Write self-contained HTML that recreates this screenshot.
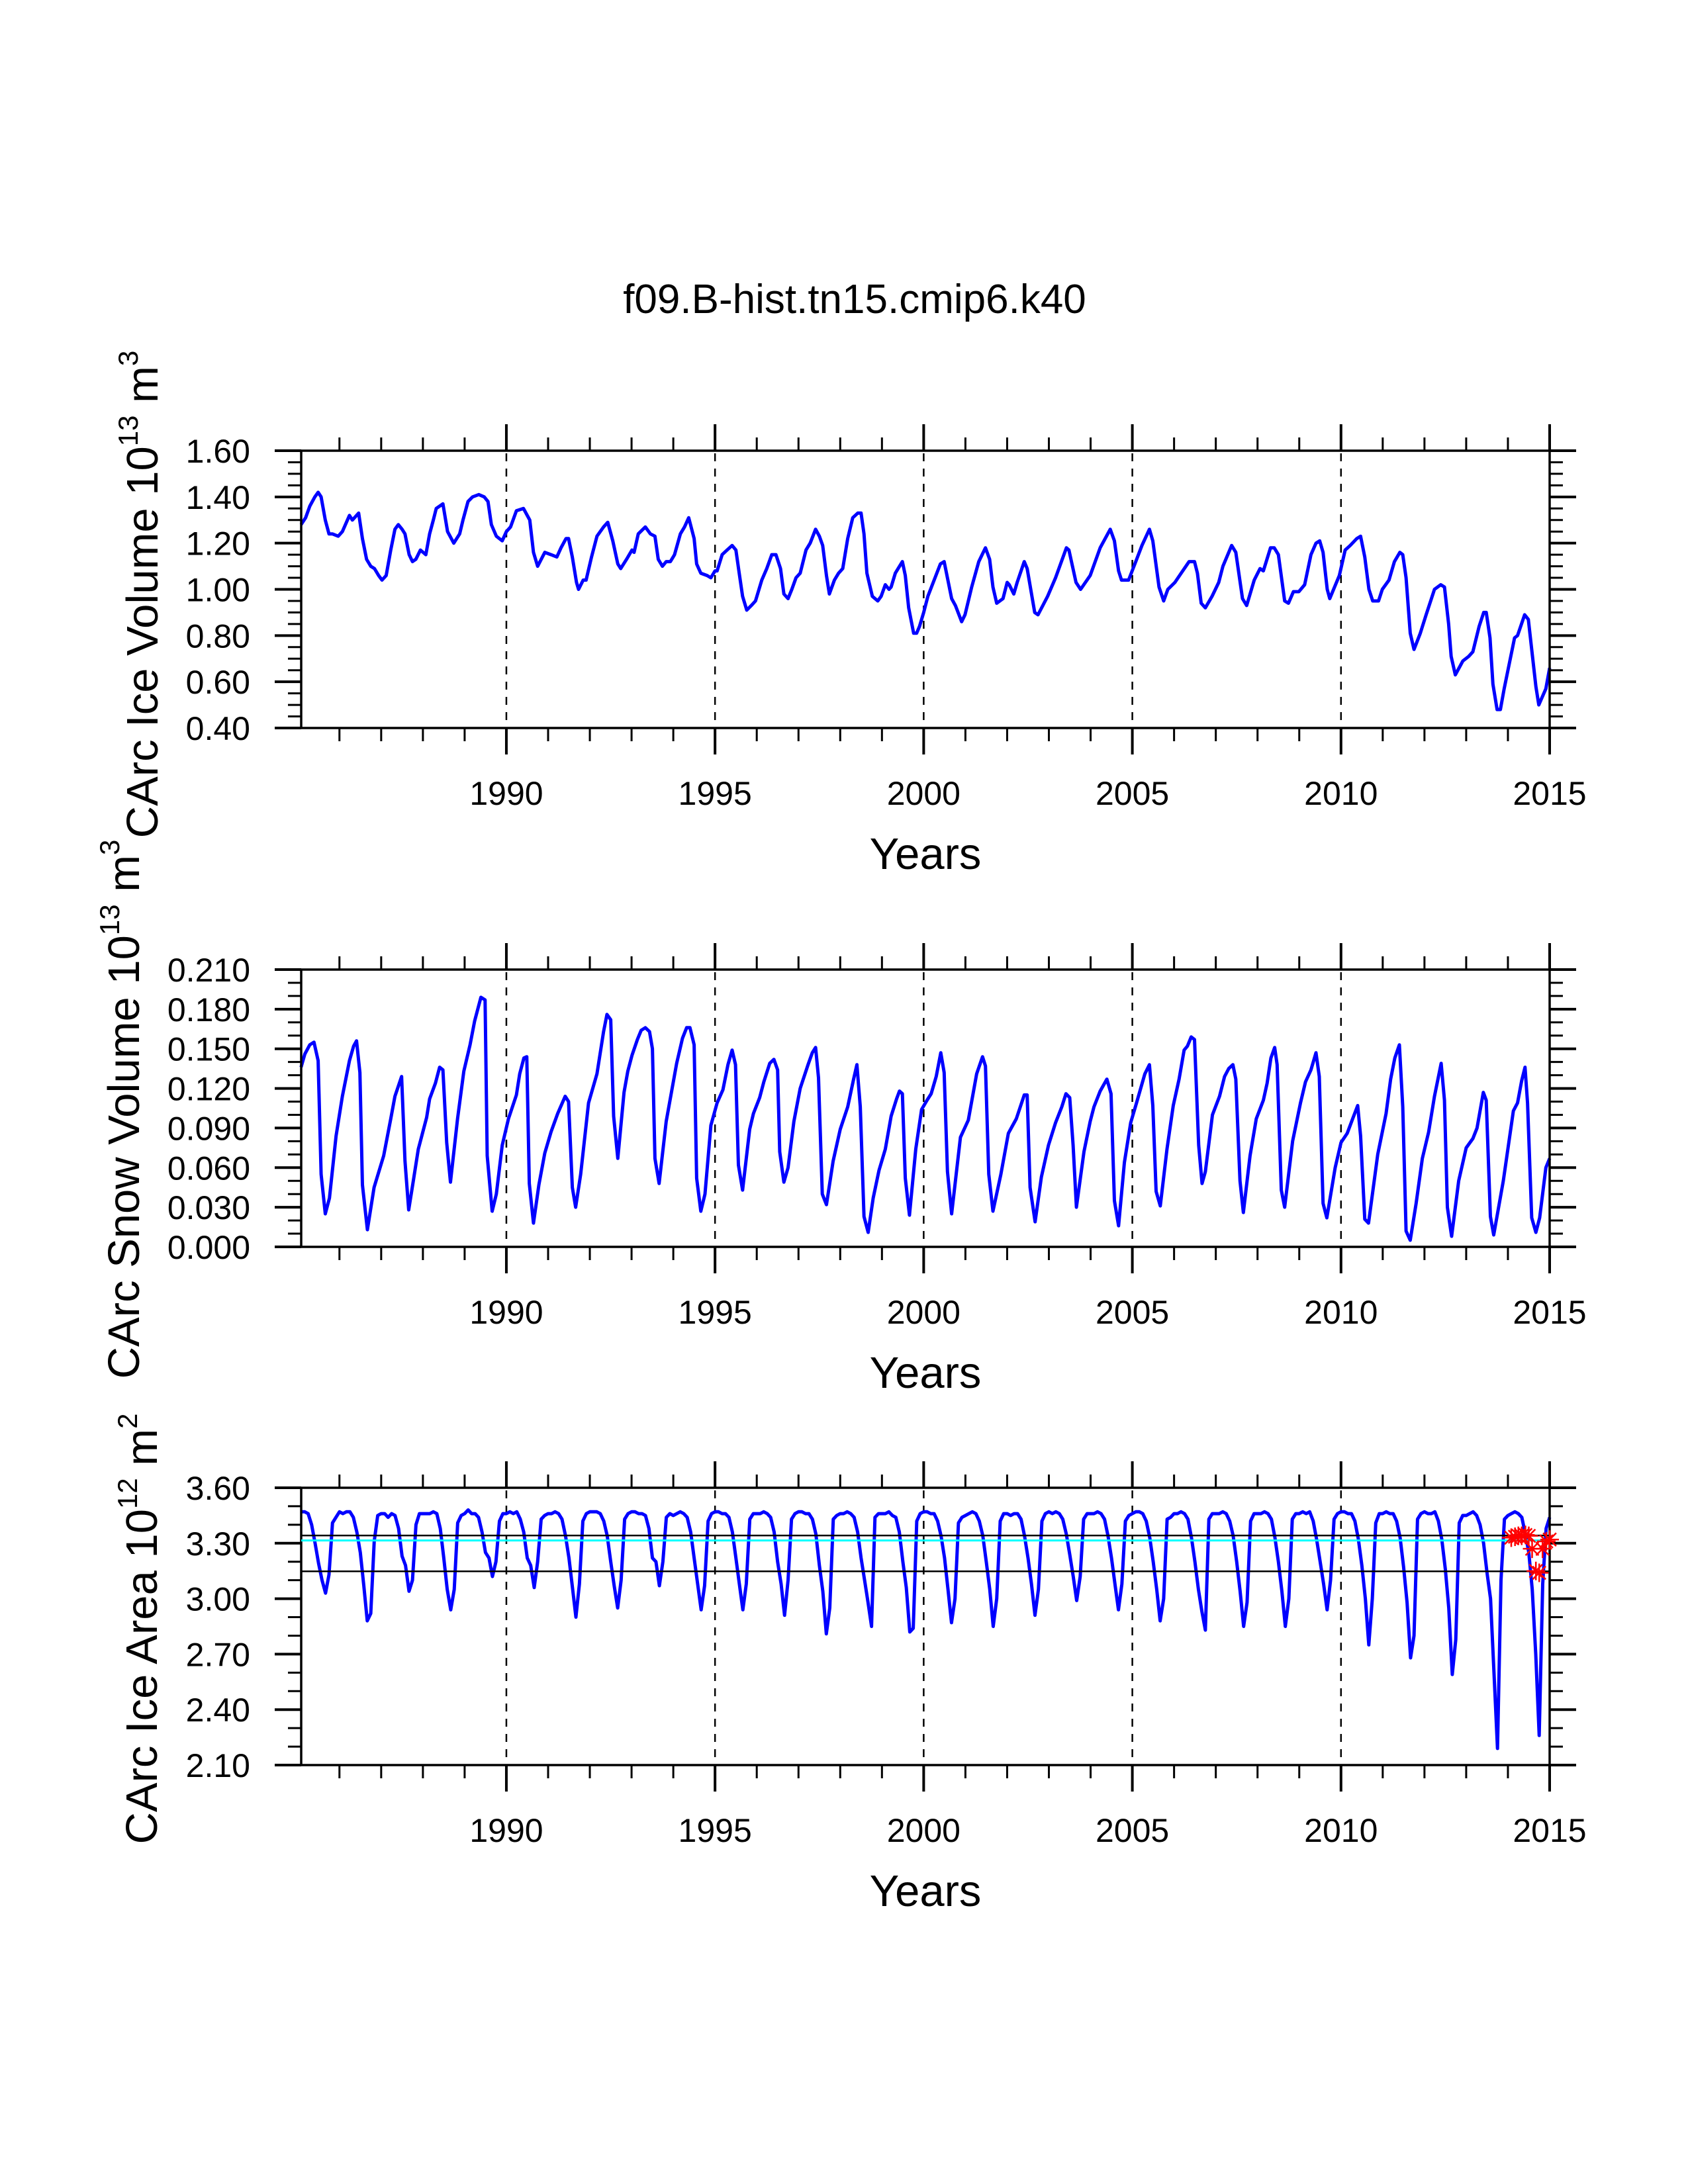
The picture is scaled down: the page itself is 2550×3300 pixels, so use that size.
<!DOCTYPE html>
<html><head><meta charset="utf-8"><title>f09.B-hist.tn15.cmip6.k40</title>
<style>
html,body{margin:0;padding:0;background:#fff;}
svg{display:block;font-family:"Liberation Sans",Arial,sans-serif;}
</style></head>
<body>
<svg id="chart" width="2550" height="3300" viewBox="0 0 2550 3300" xmlns="http://www.w3.org/2000/svg">
<rect x="0" y="0" width="2550" height="3300" fill="#fff"/>
<text x="1291" y="473" font-size="62" text-anchor="middle">f09.B-hist.tn15.cmip6.k40</text>
<g id="p1"></g>
<g id="p2"></g>
<g id="p3"></g>
<text transform="translate(238,898) rotate(-90)" font-size="67" text-anchor="middle">CArc Ice Volume 10<tspan font-size="42" dy="-30">13</tspan><tspan dy="30"> m</tspan><tspan font-size="42" dy="-30">3</tspan></text>
<text transform="translate(210,1676) rotate(-90)" font-size="67" text-anchor="middle">CArc Snow Volume 10<tspan font-size="42" dy="-30">13</tspan><tspan dy="30"> m</tspan><tspan font-size="42" dy="-30">3</tspan></text>
<text transform="translate(237,2461) rotate(-90)" font-size="67" text-anchor="middle">CArc Ice Area 10<tspan font-size="42" dy="-30">12</tspan><tspan dy="30"> m</tspan><tspan font-size="42" dy="-30">2</tspan></text>
</svg>
<script>
// ---------- data ----------
const xTickYears = [1990, 1995, 2000, 2005, 2010, 2015];
const volTicks = ["0.40","0.60","0.80","1.00","1.20","1.40","1.60"];
const snowTicks = ["0.000","0.030","0.060","0.090","0.120","0.150","0.180","0.210"];
const areaTicks = ["2.10","2.40","2.70","3.00","3.30","3.60"];
const areaRefBlack = [3.342, 3.148];
const areaRefCyan = [3.315];

const volPairs = [[1985.08,1.28],[1985.19,1.31],[1985.29,1.36],[1985.41,1.40],[1985.49,1.42],[1985.56,1.40],[1985.66,1.30],[1985.75,1.24],[1985.83,1.24],[1985.97,1.23],[1986.07,1.25],[1986.24,1.32],[1986.31,1.30],[1986.46,1.33],[1986.55,1.22],[1986.65,1.13],[1986.75,1.10],[1986.84,1.09],[1986.94,1.06],[1987.02,1.04],[1987.12,1.06],[1987.23,1.17],[1987.33,1.26],[1987.41,1.28],[1987.50,1.26],[1987.57,1.24],[1987.67,1.15],[1987.75,1.12],[1987.83,1.13],[1987.94,1.17],[1988.07,1.15],[1988.16,1.24],[1988.25,1.30],[1988.32,1.35],[1988.48,1.37],[1988.59,1.25],[1988.74,1.20],[1988.88,1.24],[1988.96,1.30],[1989.08,1.38],[1989.19,1.40],[1989.34,1.41],[1989.47,1.40],[1989.56,1.38],[1989.64,1.28],[1989.76,1.23],[1989.90,1.21],[1990.00,1.25],[1990.10,1.27],[1990.24,1.34],[1990.41,1.35],[1990.56,1.30],[1990.65,1.16],[1990.75,1.10],[1990.92,1.16],[1991.07,1.15],[1991.21,1.14],[1991.31,1.18],[1991.43,1.22],[1991.49,1.22],[1991.58,1.14],[1991.68,1.03],[1991.73,1.00],[1991.84,1.04],[1991.91,1.04],[1992.04,1.14],[1992.17,1.23],[1992.33,1.27],[1992.43,1.29],[1992.55,1.21],[1992.67,1.11],[1992.74,1.09],[1992.88,1.13],[1993.01,1.17],[1993.06,1.16],[1993.16,1.24],[1993.33,1.27],[1993.45,1.24],[1993.56,1.23],[1993.64,1.13],[1993.74,1.10],[1993.83,1.12],[1993.93,1.12],[1994.03,1.15],[1994.17,1.24],[1994.27,1.27],[1994.37,1.31],[1994.50,1.22],[1994.56,1.11],[1994.66,1.07],[1994.81,1.06],[1994.90,1.05],[1995.00,1.08],[1995.05,1.08],[1995.17,1.15],[1995.29,1.17],[1995.41,1.19],[1995.50,1.17],[1995.58,1.07],[1995.66,0.97],[1995.76,0.91],[1995.87,0.93],[1995.97,0.95],[1996.12,1.04],[1996.24,1.09],[1996.36,1.15],[1996.46,1.15],[1996.57,1.09],[1996.65,0.98],[1996.75,0.96],[1996.84,1.00],[1996.94,1.05],[1997.04,1.07],[1997.18,1.17],[1997.28,1.20],[1997.41,1.26],[1997.50,1.23],[1997.58,1.19],[1997.67,1.06],[1997.74,0.98],[1997.86,1.04],[1997.96,1.07],[1998.06,1.09],[1998.18,1.22],[1998.30,1.31],[1998.42,1.33],[1998.50,1.33],[1998.57,1.24],[1998.64,1.07],[1998.77,0.97],[1998.90,0.95],[1998.98,0.97],[1999.08,1.02],[1999.17,1.00],[1999.22,1.01],[1999.32,1.07],[1999.49,1.12],[1999.56,1.06],[1999.64,0.92],[1999.76,0.81],[1999.83,0.81],[1999.90,0.84],[2000.00,0.90],
[2000.1,0.97],[2000.4,1.11],[2000.49,1.12],[2000.67,0.96],[2000.76,0.93],[2000.91,0.86],[2000.99,0.89],[2001.15,1.01],[2001.32,1.12],[2001.48,1.18],[2001.58,1.13],[2001.66,1.01],[2001.75,0.94],[2001.9,0.96],[2002.0,1.03],[2002.05,1.02],[2002.16,0.98],[2002.24,1.03],[2002.41,1.12],[2002.48,1.09],[2002.66,0.90],[2002.74,0.89],[2002.97,0.97],[2003.16,1.05],[2003.42,1.18],[2003.48,1.17],[2003.65,1.03],[2003.76,1.00],[2003.99,1.06],[2004.23,1.18],[2004.47,1.26],[2004.57,1.21],[2004.67,1.08],[2004.74,1.04],[2004.91,1.04],[2005.06,1.11],[2005.23,1.19],[2005.41,1.26],[2005.49,1.21],[2005.64,1.01],[2005.75,0.95],[2005.85,1.00],[2006.02,1.03],[2006.17,1.07],[2006.36,1.12],[2006.49,1.12],[2006.56,1.07],[2006.65,0.94],[2006.75,0.92],[2006.91,0.97],[2007.07,1.03],[2007.17,1.10],[2007.38,1.19],[2007.48,1.16],[2007.64,0.96],[2007.74,0.93],[2007.92,1.04],[2008.06,1.09],[2008.14,1.08],[2008.31,1.18],[2008.4,1.18],[2008.5,1.15],[2008.65,0.95],[2008.74,0.94],[2008.86,0.99],[2008.99,0.99],[2009.13,1.02],[2009.28,1.15],[2009.4,1.20],[2009.49,1.21],[2009.57,1.16],[2009.67,1.00],[2009.73,0.96],[2009.96,1.06],[2010.1,1.17],[2010.22,1.19],[2010.38,1.22],[2010.47,1.23],[2010.57,1.14],[2010.67,1.00],[2010.76,0.95],[2010.9,0.95],[2010.99,1.00],[2011.15,1.04],[2011.28,1.12],[2011.41,1.16],[2011.48,1.15],[2011.56,1.05],[2011.66,0.81],[2011.75,0.74],[2011.9,0.81],[2012.04,0.89],[2012.24,1.00],[2012.39,1.02],[2012.48,1.01],[2012.58,0.85],[2012.64,0.71],[2012.74,0.63],[2012.92,0.69],[2013.06,0.71],[2013.16,0.73],[2013.31,0.84],[2013.42,0.90],[2013.48,0.90],[2013.57,0.79],[2013.64,0.59],[2013.74,0.48],[2013.82,0.48],[2013.91,0.57],[2014.16,0.79],[2014.23,0.80],[2014.4,0.89],[2014.49,0.87],[2014.57,0.74],[2014.67,0.58],[2014.74,0.50],[2014.91,0.57],[2015.0,0.66]];

const snowPairs = [[1985.08,.136],[1985.17,.146],[1985.29,.153],[1985.39,.155],[1985.49,.141],[1985.56,.055],[1985.66,.025],[1985.76,.037],[1985.92,.084],[1986.07,.114],[1986.24,.141],[1986.34,.152],[1986.41,.156],[1986.49,.132],[1986.55,.047],[1986.67,.013],[1986.83,.045],[1987.06,.069],[1987.23,.097],[1987.33,.114],[1987.49,.129],[1987.57,.065],[1987.66,.028],[1987.77,.050],[1987.89,.074],[1988.09,.098],[1988.16,.112],[1988.3,.124],[1988.4,.136],[1988.48,.134],[1988.57,.079],[1988.66,.049],[1988.83,.097],[1988.98,.133],[1989.13,.153],[1989.24,.171],[1989.39,.189],[1989.49,.187],[1989.54,.069],[1989.66,.027],[1989.76,.040],[1989.9,.077],[1990.05,.097],[1990.24,.115],[1990.32,.131],[1990.42,.143],[1990.49,.144],[1990.55,.048],[1990.65,.018],[1990.78,.047],[1990.92,.071],[1991.07,.087],[1991.23,.101],[1991.41,.114],[1991.49,.110],[1991.58,.045],[1991.66,.030],[1991.78,.055],[1991.97,.109],[1992.17,.131],[1992.33,.163],[1992.41,.176],[1992.5,.172],[1992.57,.099],[1992.67,.067],[1992.82,.117],[1992.91,.133],[1993.01,.145],[1993.14,.157],[1993.23,.164],[1993.33,.166],[1993.43,.163],[1993.5,.150],[1993.56,.067],[1993.66,.048],[1993.83,.095],[1994.08,.139],[1994.22,.158],[1994.32,.166],[1994.4,.166],[1994.5,.153],[1994.56,.052],[1994.66,.027],[1994.76,.040],[1994.9,.092],[1995.05,.109],[1995.19,.119],[1995.31,.138],[1995.41,.149],[1995.49,.138],[1995.56,.062],[1995.66,.043],[1995.83,.089],[1995.92,.101],[1996.07,.113],[1996.17,.125],[1996.31,.139],[1996.41,.142],[1996.5,.134],[1996.55,.072],[1996.65,.049],[1996.75,.060],[1996.89,.095],[1997.04,.120],[1997.23,.138],[1997.33,.147],[1997.41,.151],[1997.48,.128],[1997.57,.040],[1997.67,.032],[1997.83,.065],[1998.0,.089],[1998.18,.106],[1998.32,.127],[1998.4,.138],[1998.48,.106],[1998.57,.023],[1998.67,.011],[1998.79,.037],[1998.93,.058],[1999.08,.074],[1999.22,.099],[1999.35,.112],[1999.42,.118],[1999.49,.116],[1999.56,.052],[1999.66,.024],[1999.81,.074],[1999.95,.104],
[2000.08,.111],[2000.18,.116],[2000.3,.129],[2000.41,.147],[2000.49,.132],[2000.57,.057],[2000.67,.025],[2000.88,.083],[2001.07,.096],[2001.27,.131],[2001.41,.144],[2001.48,.137],[2001.56,.055],[2001.66,.027],[2001.85,.055],[2002.03,.086],[2002.22,.097],[2002.41,.115],[2002.48,.115],[2002.55,.045],[2002.67,.019],[2002.82,.053],[2002.99,.077],[2003.16,.094],[2003.31,.106],[2003.41,.116],[2003.5,.113],[2003.58,.077],[2003.66,.030],[2003.84,.072],[2003.99,.095],[2004.08,.106],[2004.23,.118],[2004.39,.127],[2004.49,.116],[2004.57,.035],[2004.67,.016],[2004.81,.064],[2004.96,.094],[2005.1,.109],[2005.3,.131],[2005.41,.138],[2005.49,.107],[2005.57,.042],[2005.67,.031],[2005.83,.074],[2005.98,.107],[2006.12,.127],[2006.24,.149],[2006.32,.152],[2006.41,.159],[2006.49,.157],[2006.59,.077],[2006.67,.048],[2006.75,.057],[2006.92,.100],[2007.09,.114],[2007.21,.129],[2007.31,.135],[2007.41,.138],[2007.48,.127],[2007.58,.050],[2007.66,.026],[2007.82,.069],[2007.97,.097],[2008.14,.111],[2008.23,.124],[2008.32,.143],[2008.41,.151],[2008.47,.138],[2008.57,.043],[2008.65,.030],[2008.84,.080],[2009.03,.109],[2009.15,.125],[2009.28,.134],[2009.4,.147],[2009.48,.129],[2009.57,.033],[2009.66,.022],[2009.86,.060],[2010.0,.079],[2010.15,.086],[2010.28,.097],[2010.4,.107],[2010.47,.084],[2010.57,.021],[2010.66,.018],[2010.88,.070],[2011.08,.101],[2011.19,.127],[2011.29,.143],[2011.4,.153],[2011.48,.106],[2011.56,.012],[2011.66,.005],[2011.8,.033],[2011.95,.067],[2012.1,.087],[2012.24,.114],[2012.4,.139],[2012.48,.111],[2012.55,.030],[2012.65,.008],[2012.82,.050],[2013.0,.075],[2013.16,.082],[2013.26,.090],[2013.41,.117],[2013.48,.111],[2013.58,.023],[2013.66,.009],[2013.89,.050],[2014.13,.103],[2014.23,.109],[2014.33,.126],[2014.41,.136],[2014.47,.109],[2014.57,.022],[2014.67,.011],[2014.76,.022],[2014.91,.060],[2015.0,.067]];

// ice area monthly values, one row per year 1985..2014 (Jan..Dec)
const areaMonthly = [
[3.47,3.47,3.46,3.40,3.30,3.19,3.10,3.03,3.13,3.41,3.44,3.47],
[3.46,3.47,3.47,3.44,3.36,3.25,3.07,2.88,2.92,3.31,3.45,3.46],
[3.46,3.44,3.46,3.45,3.38,3.23,3.18,3.04,3.10,3.40,3.46,3.46],
[3.46,3.46,3.47,3.46,3.38,3.22,3.05,2.94,3.05,3.41,3.45,3.46],
[3.48,3.46,3.46,3.44,3.36,3.25,3.22,3.12,3.20,3.42,3.46,3.46],
[3.47,3.46,3.47,3.43,3.36,3.22,3.18,3.06,3.20,3.43,3.45,3.46],
[3.46,3.47,3.46,3.43,3.34,3.22,3.06,2.90,3.08,3.42,3.46,3.47],
[3.47,3.47,3.46,3.42,3.34,3.20,3.07,2.95,3.10,3.43,3.46,3.47],
[3.47,3.46,3.46,3.45,3.38,3.22,3.20,3.07,3.20,3.44,3.46,3.45],
[3.46,3.47,3.46,3.44,3.36,3.22,3.08,2.94,3.07,3.42,3.46,3.47],
[3.47,3.46,3.46,3.44,3.36,3.22,3.08,2.94,3.08,3.43,3.46,3.46],
[3.46,3.47,3.46,3.44,3.36,3.20,3.08,2.91,3.10,3.43,3.46,3.47],
[3.47,3.46,3.46,3.43,3.35,3.18,3.04,2.81,2.95,3.43,3.45,3.46],
[3.46,3.47,3.46,3.44,3.36,3.22,3.10,2.98,2.85,3.44,3.46,3.46],
[3.46,3.47,3.45,3.44,3.36,3.20,3.06,2.82,2.84,3.42,3.46,3.47],
[3.47,3.46,3.46,3.42,3.34,3.22,3.05,2.87,3.00,3.41,3.44,3.45],
[3.46,3.47,3.46,3.42,3.34,3.20,3.05,2.85,3.00,3.42,3.46,3.46],
[3.45,3.46,3.46,3.43,3.34,3.22,3.08,2.91,3.05,3.42,3.46,3.47],
[3.46,3.47,3.46,3.43,3.35,3.24,3.12,2.99,3.12,3.43,3.46,3.46],
[3.46,3.47,3.46,3.43,3.34,3.22,3.08,2.94,3.08,3.42,3.45,3.46],
[3.47,3.47,3.46,3.42,3.33,3.20,3.05,2.88,3.00,3.43,3.44,3.46],
[3.46,3.47,3.46,3.43,3.33,3.20,3.05,2.93,2.83,3.43,3.46,3.46],
[3.46,3.47,3.46,3.42,3.34,3.20,3.04,2.85,2.98,3.42,3.46,3.46],
[3.46,3.47,3.46,3.43,3.33,3.20,3.04,2.85,3.00,3.43,3.46,3.46],
[3.47,3.46,3.47,3.42,3.32,3.20,3.08,2.94,3.10,3.43,3.46,3.47],
[3.47,3.46,3.46,3.42,3.32,3.18,3.00,2.75,3.00,3.41,3.46,3.46],
[3.47,3.46,3.46,3.42,3.33,3.17,2.98,2.68,2.80,3.43,3.46,3.47],
[3.46,3.46,3.47,3.42,3.32,3.16,2.95,2.59,2.78,3.41,3.45,3.45],
[3.46,3.47,3.45,3.40,3.30,3.14,3.00,2.60,2.19,3.10,3.43,3.45],
[3.46,3.47,3.46,3.44,3.35,3.25,3.05,2.70,2.26,3.08,3.38,3.44]];

const starTimes = [2014.08,2014.17,2014.25,2014.33,2014.42,2014.5,2014.58,2014.67,2014.75,2014.83,2014.92,2015.0];
const starValues = [3.33,3.335,3.34,3.34,3.345,3.34,3.27,3.15,3.14,3.27,3.31,3.32];

// ---------- rendering ----------
const NS = "http://www.w3.org/2000/svg";
const X0 = 455, X1 = 2341, T0 = 1985.0833, T1 = 2015.0;
function xAt(t){ return X0 + (t - T0) / (T1 - T0) * (X1 - X0); }
function mk(parent, tag, attrs){
  const e = document.createElementNS(NS, tag);
  for (const k in attrs) e.setAttribute(k, attrs[k]);
  parent.appendChild(e);
  return e;
}

function panel(g, top, vmin, vmax, ticks, minorStep, seriesT, seriesV, nameBase){
  const bot = top + 419;
  const yAt = v => bot - (v - vmin) / (vmax - vmin) * (bot - top);
  for (let i = 0; i < xTickYears.length - 1; i++){
    const x = xAt(xTickYears[i]);
    const l = mk(g, "line", {x1:x, x2:x, y1:top+4, y2:bot-2, stroke:"#000", "stroke-width":2.5, "stroke-dasharray":"12 11"});
    
    
  }
  let d = "";
  for (let i = 0; i < seriesT.length; i++){
    d += (i ? "L" : "M") + xAt(seriesT[i]).toFixed(1) + " " + yAt(seriesV[i]).toFixed(1);
  }
  const p = mk(g, "path", {d:d, fill:"none", stroke:"#0000ff", "stroke-width":5, "stroke-linejoin":"round"});
  
  
  const fr = mk(g, "rect", {x:X0, y:top, width:X1-X0, height:bot-top, fill:"none", stroke:"#000", "stroke-width":3.5});
  
  
  const nMinor = Math.round((vmax - vmin) / minorStep);
  const majorEvery = Math.round(nMinor / (ticks.length - 1));
  for (let i = 0; i <= nMinor; i++){
    const y = yAt(vmin + i * minorStep);
    const major = i % majorEvery === 0;
    const len = major ? 40 : 20, w = major ? 4 : 3;
    mk(g, "line", {x1:X0-len, x2:X0, y1:y, y2:y, stroke:"#000", "stroke-width":w});
    mk(g, "line", {x1:X1, x2:X1+len, y1:y, y2:y, stroke:"#000", "stroke-width":w});
  }
  ticks.forEach((lab, i) => {
    const v = vmin + i * (vmax - vmin) / (ticks.length - 1);
    const t = mk(g, "text", {x:378, y:yAt(v)+18, "font-size":50, "text-anchor":"end"});
    t.textContent = lab;
    
    
  });
  for (let yr = 1986; yr <= 2015; yr++){
    const x = xAt(yr);
    const major = yr % 5 === 0;
    const len = major ? 40 : 20, w = major ? 4 : 3;
    mk(g, "line", {x1:x, x2:x, y1:top-len, y2:top, stroke:"#000", "stroke-width":w});
    mk(g, "line", {x1:x, x2:x, y1:bot, y2:bot+len, stroke:"#000", "stroke-width":w});
  }
  xTickYears.forEach(yr => {
    const t = mk(g, "text", {x:xAt(yr), y:bot+116, "font-size":50, "text-anchor":"middle"});
    t.textContent = String(yr);
    
    
  });
  const xt = mk(g, "text", {x:(X0+X1)/2, y:bot+213, "font-size":67, "text-anchor":"middle"});
  xt.textContent = "Years";
  
  
  return yAt;
}

const volTimes = volPairs.map(p => p[0]);
const volValues = volPairs.map(p => p[1]);
const snowTimes = snowPairs.map(p => p[0]);
const snowValues = snowPairs.map(p => p[1]);
const areaTimes = [];
const areaValues = [];
areaMonthly.forEach((row, yi) => row.forEach((v, m) => { areaTimes.push(1985 + yi + (m + 1) / 12); areaValues.push(v); }));

panel(document.getElementById("p1"), 681, 0.40, 1.60, volTicks, 0.05, volTimes, volValues, "ice-volume");
panel(document.getElementById("p2"), 1465, 0.0, 0.21, snowTicks, 0.01, snowTimes, snowValues, "snow-volume");
const g3 = document.getElementById("p3");
const yA = panel(g3, 2248, 2.10, 3.60, areaTicks, 0.1, areaTimes, areaValues, "ice-area");
areaRefBlack.forEach(v => {
  const l = mk(g3, "line", {x1:X0, x2:X1, y1:yA(v), y2:yA(v), stroke:"#000", "stroke-width":2.5});
  
  
});
areaRefCyan.forEach(v => {
  const l = mk(g3, "line", {x1:X0, x2:X1, y1:yA(v), y2:yA(v), stroke:"#00ffff", "stroke-width":3});
  
  
});
starTimes.forEach((t, i) => {
  const cx = xAt(t), cy = yA(starValues[i]);
  const s = mk(g3, "g", {stroke:"#ff0000", "stroke-width":2.5});
  
  
  [0, 45, 90, 135].forEach(a => {
    const r = 14, rad = a * Math.PI / 180;
    mk(s, "line", {x1:cx - r*Math.cos(rad), y1:cy - r*Math.sin(rad), x2:cx + r*Math.cos(rad), y2:cy + r*Math.sin(rad)});
  });
});
</script>
</body></html>
